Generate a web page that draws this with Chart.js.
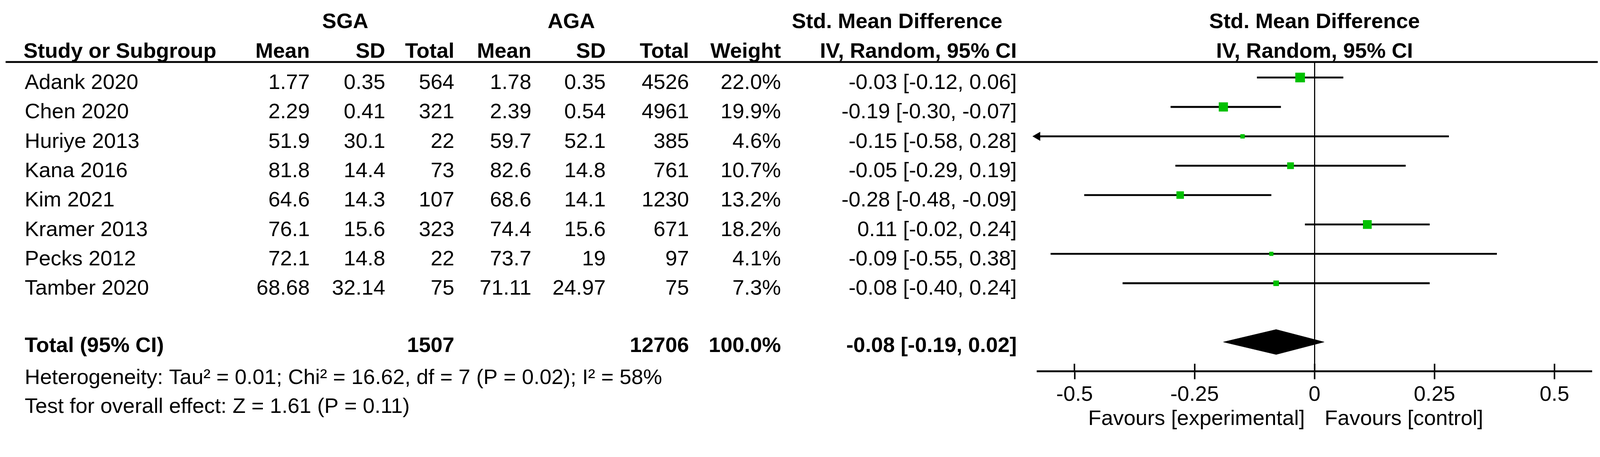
<!DOCTYPE html>
<html>
<head>
<meta charset="utf-8">
<script src="https://cdn.jsdelivr.net/npm/chart.js@4.4.1/dist/chart.umd.min.js"></script>
<style>
  html, body { margin: 0; padding: 0; background: #fff; overflow: hidden; }
  canvas { display: block; }
</style>
</head>
<body>
<canvas id="forest-plot"></canvas>
<script>
// study rows
const studies = ['Adank 2020', 'Chen 2020', 'Huriye 2013', 'Kana 2016', 'Kim 2021', 'Kramer 2013', 'Pecks 2012', 'Tamber 2020'];
const sgaMean = [1.77, 2.29, 51.9, 81.8, 64.6, 76.1, 72.1, 68.68];
const sgaSD = [0.35, 0.41, 30.1, 14.4, 14.3, 15.6, 14.8, 32.14];
const sgaTotal = [564, 321, 22, 73, 107, 323, 22, 75];
const agaMean = [1.78, 2.39, 59.7, 82.6, 68.6, 74.4, 73.7, 71.11];
const agaSD = [0.35, 0.54, 52.1, 14.8, 14.1, 15.6, 19, 24.97];
const agaTotal = [4526, 4961, 385, 761, 1230, 671, 97, 75];
const weight = [22.0, 19.9, 4.6, 10.7, 13.2, 18.2, 4.1, 7.3];
const smd = [-0.03, -0.19, -0.15, -0.05, -0.28, 0.11, -0.09, -0.08];
const ciLow = [-0.12, -0.30, -0.58, -0.29, -0.48, -0.02, -0.55, -0.40];
const ciHigh = [0.06, -0.07, 0.28, 0.19, -0.09, 0.24, 0.38, 0.24];

// pooled result
const pooledSga = 1507;
const pooledAga = 12706;
const pooledWeight = 100.0;
const pooledSmd = -0.08;
const pooledLow = -0.19;
const pooledHigh = 0.02;

// axis
const tickValues = [-0.5, -0.25, 0, 0.25, 0.5];
const tickLabels = ['-0.5', '-0.25', '0', '0.25', '0.5'];

const heterogeneityText = 'Heterogeneity: Tau\u00b2 = 0.01; Chi\u00b2 = 16.62, df = 7 (P = 0.02); I\u00b2 = 58%';
const overallText = 'Test for overall effect: Z = 1.61 (P = 0.11)';

// layout, in reference pixels, scaled to the window
const DESIGN_W = 4282, DESIGN_H = 1171;
const K = Math.min(window.innerWidth / DESIGN_W, window.innerHeight / DESIGN_H) || 1;
const px = v => v * K;

const X_MIN = -0.577, X_MAX = 0.577;
const Y_MIN = -0.53, Y_MAX = 10;
const HEADER_Y = 166, AXIS_Y = 995;
const TICK_UP = 21 * (Y_MAX - Y_MIN) / (AXIS_Y - HEADER_Y);
const DIAMOND_H = 0.425;
const totalRow = studies.length + 1;
const FONT = '"Liberation Sans", Arial, sans-serif';
const FONT_SIZE = 57;
const COL = { study: 66, sgaMean: 829, sgaSD: 1031, sgaTotal: 1216, agaMean: 1422, agaSD: 1621, agaTotal: 1844, weight: 2090, ci: 2721 };

const fmt = v => v.toFixed(2);
const ciText = (m, lo, hi) => `${fmt(m)} [${fmt(lo)}, ${fmt(hi)}]`;

// x and y in reference pixels
function txt(ctx, s, x, y, align, bold) {
    ctx.font = (bold ? 'bold ' : '') + px(FONT_SIZE) + 'px ' + FONT;
    ctx.textAlign = align;
    ctx.textBaseline = 'middle';
    ctx.fillStyle = '#000';
    ctx.fillText(s, px(x), px(y));
}

// table text, header rule and axis captions
const tablePlugin = {
    id: 'forestTable',
    afterDraw(chart) {
        const { ctx, scales: { x, y }, chartArea } = chart;
        const mid = (chartArea.left + chartArea.right) / 2 / K;
        const x0 = x.getPixelForValue(0) / K;
        const rowY = v => y.getPixelForValue(v) / K;
        ctx.save();

        // header rule
        ctx.strokeStyle = '#000';
        ctx.lineWidth = px(5);
        ctx.beginPath();
        ctx.moveTo(px(15), px(HEADER_Y));
        ctx.lineTo(px(4276), px(HEADER_Y));
        ctx.stroke();

        // headers
        txt(ctx, 'SGA', 924, 60, 'center', true);
        txt(ctx, 'AGA', 1529, 60, 'center', true);
        txt(ctx, 'Std. Mean Difference', 2119, 60, 'left', true);
        txt(ctx, 'Std. Mean Difference', mid, 60, 'center', true);
        txt(ctx, 'Study or Subgroup', 63, 139, 'left', true);
        txt(ctx, 'Mean', COL.sgaMean, 139, 'right', true);
        txt(ctx, 'SD', COL.sgaSD, 139, 'right', true);
        txt(ctx, 'Total', COL.sgaTotal, 139, 'right', true);
        txt(ctx, 'Mean', COL.agaMean, 139, 'right', true);
        txt(ctx, 'SD', COL.agaSD, 139, 'right', true);
        txt(ctx, 'Total', COL.agaTotal, 139, 'right', true);
        txt(ctx, 'Weight', COL.weight, 139, 'right', true);
        txt(ctx, 'IV, Random, 95% CI', COL.ci, 139, 'right', true);
        txt(ctx, 'IV, Random, 95% CI', mid, 139, 'center', true);

        // study rows
        studies.forEach((s, i) => {
            const py = rowY(i) + 15;
            txt(ctx, s, COL.study, py, 'left');
            txt(ctx, String(sgaMean[i]), COL.sgaMean, py, 'right');
            txt(ctx, String(sgaSD[i]), COL.sgaSD, py, 'right');
            txt(ctx, String(sgaTotal[i]), COL.sgaTotal, py, 'right');
            txt(ctx, String(agaMean[i]), COL.agaMean, py, 'right');
            txt(ctx, String(agaSD[i]), COL.agaSD, py, 'right');
            txt(ctx, String(agaTotal[i]), COL.agaTotal, py, 'right');
            txt(ctx, weight[i].toFixed(1) + '%', COL.weight, py, 'right');
            txt(ctx, ciText(smd[i], ciLow[i], ciHigh[i]), COL.ci, py, 'right');
        });

        // pooled row
        const ty = rowY(totalRow) + 11;
        txt(ctx, 'Total (95% CI)', COL.study, ty, 'left', true);
        txt(ctx, String(pooledSga), COL.sgaTotal, ty, 'right', true);
        txt(ctx, String(pooledAga), COL.agaTotal, ty, 'right', true);
        txt(ctx, pooledWeight.toFixed(1) + '%', COL.weight, ty, 'right', true);
        txt(ctx, ciText(pooledSmd, pooledLow, pooledHigh), COL.ci, ty, 'right', true);

        // footer
        txt(ctx, heterogeneityText, COL.study, 1013, 'left');
        txt(ctx, overallText, COL.study, 1090, 'left');

        // favours captions
        txt(ctx, 'Favours [experimental]', x0 - 26, 1123, 'right');
        txt(ctx, 'Favours [control]', x0 + 27, 1123, 'left');

        ctx.restore();
    }
};

const ciDatasets = studies.map((s, i) => ({
    type: 'scatter',
    label: s,
    showLine: true,
    data: [{ x: ciLow[i], y: i }, { x: ciHigh[i], y: i }],
    borderColor: '#000',
    borderWidth: px(5),
    pointRadius: 0,
    order: 2
}));

const arrowPoints = studies
    .map((s, i) => ({ x: X_MIN, y: i, out: ciLow[i] < X_MIN }))
    .filter(p => p.out);

const canvas = document.getElementById('forest-plot');
canvas.width = Math.round(DESIGN_W * K);
canvas.height = Math.round(DESIGN_H * K);

new Chart(canvas.getContext('2d'), {
    type: 'scatter',
    data: {
        datasets: [
            {
                label: 'weights',
                data: smd.map((v, i) => ({ x: v, y: i })),
                pointStyle: 'rect',
                pointRadius: c => px(3.9 * Math.sqrt(weight[c.dataIndex])),
                pointBackgroundColor: '#00c000',
                pointBorderWidth: 0,
                order: 0
            },
            {
                label: 'arrows',
                data: arrowPoints,
                pointStyle: 'triangle',
                pointRotation: -90,
                pointRadius: px(14),
                pointBackgroundColor: '#000',
                pointBorderWidth: 0,
                clip: false,
                order: 0
            },
            {
                type: 'line',
                label: 'pooled top',
                data: [{ x: pooledLow, y: totalRow }, { x: pooledSmd, y: totalRow - DIAMOND_H }, { x: pooledHigh, y: totalRow }],
                borderColor: '#000',
                borderWidth: px(1),
                backgroundColor: '#000',
                fill: '+1',
                pointRadius: 0,
                order: 1
            },
            {
                type: 'line',
                label: 'pooled bottom',
                data: [{ x: pooledLow, y: totalRow }, { x: pooledSmd, y: totalRow + DIAMOND_H }, { x: pooledHigh, y: totalRow }],
                borderColor: '#000',
                borderWidth: px(1),
                fill: false,
                pointRadius: 0,
                order: 1
            },
            ...ciDatasets
        ]
    },
    options: {
        responsive: false,
        animation: false,
        layout: { padding: { left: px(2777), right: px(23), top: px(HEADER_Y), bottom: 0 } },
        plugins: {
            legend: { display: false },
            tooltip: { enabled: false }
        },
        scales: {
            x: {
                type: 'linear',
                axis: 'x',
                position: 'bottom',
                min: X_MIN,
                max: X_MAX,
                afterBuildTicks: s => { s.ticks = tickValues.map(v => ({ value: v })); },
                afterFit: s => { s.height = px(DESIGN_H - AXIS_Y); },
                border: { display: true, color: '#000', width: px(5) },
                grid: {
                    drawOnChartArea: true,
                    color: c => (c.tick && c.tick.value === 0 ? '#000' : 'rgba(0,0,0,0)'),
                    lineWidth: px(3),
                    drawTicks: true,
                    tickLength: px(21),
                    tickColor: '#000',
                    tickWidth: px(4)
                },
                ticks: {
                    autoSkip: false,
                    maxRotation: 0,
                    padding: px(8),
                    color: '#000',
                    font: { family: FONT, size: px(FONT_SIZE) },
                    callback: (v, i) => tickLabels[i]
                }
            },
            xTicksUp: {
                type: 'linear',
                axis: 'x',
                position: { y: Y_MAX - TICK_UP },
                min: X_MIN,
                max: X_MAX,
                afterBuildTicks: s => { s.ticks = tickValues.map(v => ({ value: v })); },
                afterFit: s => { s.height = 0; },
                border: { display: false },
                grid: {
                    drawOnChartArea: false,
                    drawTicks: true,
                    tickLength: px(21),
                    tickColor: '#000',
                    tickWidth: px(4)
                },
                ticks: { display: false }
            },
            y: {
                type: 'linear',
                reverse: true,
                min: Y_MIN,
                max: Y_MAX,
                display: false
            }
        }
    },
    plugins: [tablePlugin]
});
</script>
</body>
</html>
